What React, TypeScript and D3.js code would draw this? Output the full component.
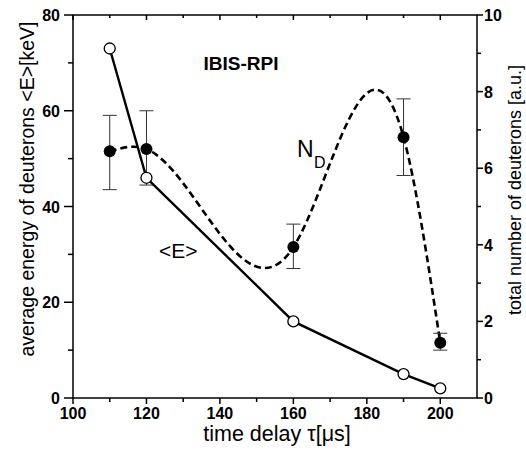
import React from 'react';
import * as d3 from 'd3';

// time delay (µs)
const delays = [110, 120, 160, 190, 200];
// average deuteron energy <E> [keV], left axis
const energy = [73, 46, 16, 5, 2];
// total number of deuterons N_D [a.u.], right axis
const counts = [6.44, 6.5, 3.94, 6.81, 1.44];
const countLow = [5.44, 5.56, 3.38, 5.81, 1.25];
const countHigh = [7.38, 7.5, 4.54, 7.81, 1.69];

const xTicks = [100, 120, 140, 160, 180, 200];
const xMinor = [110, 130, 150, 170, 190];
const leftTicks = [0, 20, 40, 60, 80];
const leftMinor = [10, 30, 50, 70];
const rightTicks = [0, 2, 4, 6, 8, 10];
const rightMinor = [1, 3, 5, 7, 9];

const W = 526;
const H = 453;
const FONT = '"Liberation Sans", Arial, sans-serif';

// natural cubic spline y(x) through the points, drawn as bezier segments
function splinePath(xs: number[], ys: number[], sx: (v: number) => number, sy: (v: number) => number) {
  const n = xs.length;
  const h = d3.range(n - 1).map((i) => xs[i + 1] - xs[i]);
  const s = d3.range(n - 1).map((i) => (ys[i + 1] - ys[i]) / h[i]);
  // tridiagonal system for second derivatives, M0 = Mn = 0
  const M = new Array(n).fill(0);
  const m = n - 2;
  const a: number[] = [], b: number[] = [], c: number[] = [], r: number[] = [];
  for (let k = 0; k < m; k++) {
    const i = k + 1;
    a.push(h[i - 1]);
    b.push(2 * (h[i - 1] + h[i]));
    c.push(h[i]);
    r.push(6 * (s[i] - s[i - 1]));
  }
  for (let k = 1; k < m; k++) {
    const w = a[k] / b[k - 1];
    b[k] -= w * c[k - 1];
    r[k] -= w * r[k - 1];
  }
  for (let k = m - 1; k >= 0; k--) {
    M[k + 1] = (r[k] - (k < m - 1 ? c[k] * M[k + 2] : 0)) / b[k];
  }
  const p = d3.path();
  p.moveTo(sx(xs[0]), sy(ys[0]));
  for (let i = 0; i < n - 1; i++) {
    const d0 = s[i] - (h[i] * (2 * M[i] + M[i + 1])) / 6;
    const d1 = s[i] + (h[i] * (M[i] + 2 * M[i + 1])) / 6;
    const t = h[i] / 3;
    p.bezierCurveTo(
      sx(xs[i] + t), sy(ys[i] + d0 * t),
      sx(xs[i + 1] - t), sy(ys[i + 1] - d1 * t),
      sx(xs[i + 1]), sy(ys[i + 1])
    );
  }
  return p.toString();
}

const App = () => {
  const x = d3.scaleLinear().domain([100, 210]).range([73, 477]);
  const yL = d3.scaleLinear().domain([0, 80]).range([398, 15]);
  const yR = d3.scaleLinear().domain([0, 10]).range([398, 15]);

  const [x0, x1] = x.range();
  const [yb, yt] = yL.range();

  const eLine = d3
    .line<number>()
    .x((d, i) => x(delays[i]))
    .y((d) => yL(d))(energy);

  const nLine = splinePath(delays, counts, x, yR);

  return (
    <svg width={W} height={H} style={{ position: 'absolute', left: 0, top: 0, background: '#fff' }}>
      <g fill="none" stroke="#000" strokeWidth={1.5}>
        {/* frame */}
        <rect x={x0} y={yt} width={x1 - x0} height={yb - yt} />
        {/* bottom ticks */}
        {xTicks.map((t) => (
          <line key={'xb' + t} x1={x(t)} x2={x(t)} y1={yb} y2={yb + 6} />
        ))}
        {xMinor.map((t) => (
          <line key={'xbm' + t} x1={x(t)} x2={x(t)} y1={yb} y2={yb + 4} />
        ))}
        {/* top ticks, inward */}
        {xTicks.concat(xMinor).map((t) => (
          <line key={'xt' + t} x1={x(t)} x2={x(t)} y1={yt} y2={yt + (xTicks.includes(t) ? 5 : 3)} />
        ))}
        {/* left ticks */}
        {leftTicks.map((t) => (
          <line key={'yl' + t} x1={x0 - 9} x2={x0} y1={yL(t)} y2={yL(t)} />
        ))}
        {leftMinor.map((t) => (
          <line key={'ylm' + t} x1={x0 - 5} x2={x0} y1={yL(t)} y2={yL(t)} />
        ))}
        {/* right ticks */}
        {rightTicks.map((t) => (
          <line key={'yr' + t} x1={x1} x2={x1 + 6} y1={yR(t)} y2={yR(t)} />
        ))}
        {rightMinor.map((t) => (
          <line key={'yrm' + t} x1={x1} x2={x1 + 4} y1={yR(t)} y2={yR(t)} />
        ))}
      </g>

      {/* tick labels */}
      <g fontFamily={FONT} fontWeight="bold" fontSize={16} fill="#000">
        {xTicks.map((t) => (
          <text key={'xl' + t} x={x(t)} y={yb + 21} textAnchor="middle">
            {t}
          </text>
        ))}
        {leftTicks.map((t) => (
          <text key={'ll' + t} x={x0 - 13} y={yL(t) + 6} textAnchor="end">
            {t}
          </text>
        ))}
        {rightTicks.map((t) => (
          <text key={'rl' + t} x={x1 + 7} y={yR(t) + 6} textAnchor="start">
            {t}
          </text>
        ))}
      </g>

      {/* axis titles */}
      <g fontFamily={FONT} fill="#000">
        <text x={277} y={441} fontSize={21.5} textAnchor="middle">
          time delay τ[μs]
        </text>
        <text transform={`translate(34,189) rotate(-90)`} fontSize={19.5} textAnchor="middle">
          average energy of deuterons &lt;E&gt;[keV]
        </text>
        <text transform={`translate(521,190) rotate(-90)`} fontSize={18} textAnchor="middle">
          total number of deuterons [a.u.]
        </text>
        <text x={241} y={70} fontSize={19} fontWeight="bold" textAnchor="middle">
          IBIS-RPI
        </text>
        <text x={159} y={258} fontSize={21}>
          &lt;E&gt;
        </text>
        <text x={297} y={157} fontSize={23}>
          N
        </text>
        <text x={314} y={168} fontSize={16}>
          D
        </text>
      </g>

      {/* N_D dashed curve */}
      <path d={nLine} fill="none" stroke="#000" strokeWidth={2.6} strokeDasharray="7,4" />
      {/* error bars */}
      <g stroke="#333" strokeWidth={1}>
        {delays.map((t, i) => (
          <g key={'eb' + t}>
            <line x1={x(t)} x2={x(t)} y1={yR(countLow[i])} y2={yR(countHigh[i])} />
            <line x1={x(t) - 7} x2={x(t) + 7} y1={yR(countLow[i])} y2={yR(countLow[i])} />
            <line x1={x(t) - 7} x2={x(t) + 7} y1={yR(countHigh[i])} y2={yR(countHigh[i])} />
          </g>
        ))}
      </g>
      {/* <E> solid line */}
      <path d={eLine ?? ''} fill="none" stroke="#000" strokeWidth={2.4} />
      {delays.map((t, i) => (
        <circle key={'nd' + t} cx={x(t)} cy={yR(counts[i])} r={6} fill="#000" />
      ))}
      {delays.map((t, i) => (
        <circle key={'e' + t} cx={x(t)} cy={yL(energy[i])} r={5.5} fill="#fff" stroke="#000" strokeWidth={1.3} />
      ))}
    </svg>
  );
};

export default App;
